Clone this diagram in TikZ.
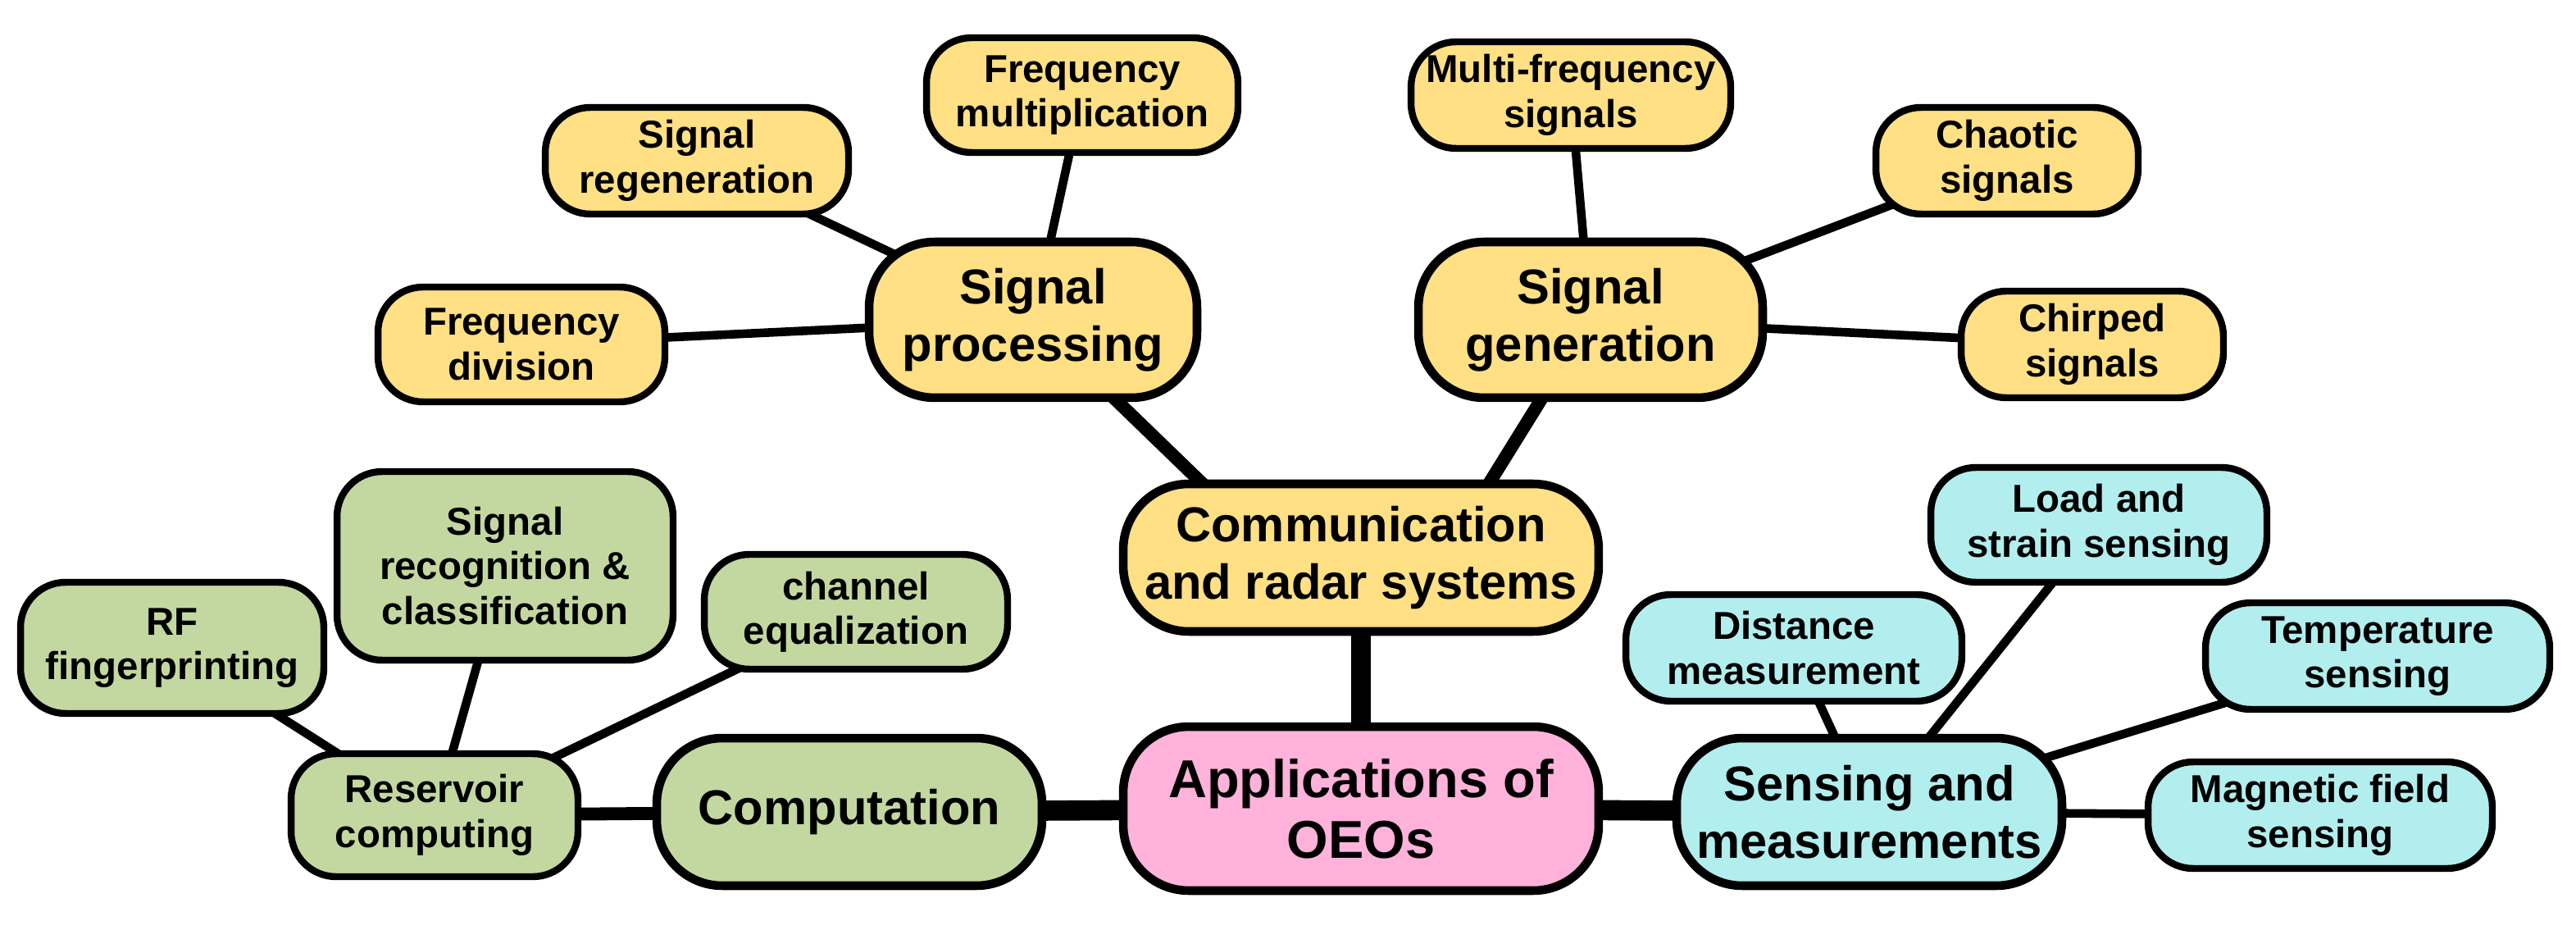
\documentclass[tikz,border=0pt]{standalone}
\usepackage{fontspec}
\setmainfont{Liberation Sans}
\usetikzlibrary{backgrounds}
\definecolor{hubcolor}{RGB}{255,178,218}
\definecolor{commcolor}{RGB}{255,224,132}
\definecolor{compcolor}{RGB}{194,216,160}
\definecolor{senscolor}{RGB}{178,238,238}
\tikzset{
  box/.style={draw=black, line width=2.4pt, rounded corners=0.55cm, align=center, font=\bfseries\fontsize{13.5}{15.5}\selectfont, inner sep=2pt},
  big/.style={box, line width=3pt, rounded corners=0.8cm, font=\bfseries\fontsize{17}{20}\selectfont},
  link/.style={line width=3pt},
  mid/.style={line width=4.5pt},
  main/.style={line width=7pt}
}
\begin{document}
\begin{tikzpicture}[x=0.02cm, y=-0.02cm]
    \useasboundingbox (0,0) rectangle (1571,567);
    % centre
    \node[big, fill=hubcolor, minimum width=5.8cm, minimum height=2cm, font=\bfseries\fontsize{18.5}{21}\selectfont] (hub) at (830,493) {Applications of\\OEOs};
    % communication branch
    \node[big, fill=commcolor, minimum width=5.8cm, minimum height=1.8cm] (comm) at (830,340) {Communication\\and radar systems};
    \node[big, fill=commcolor, minimum width=4cm, minimum height=1.9cm] (proc) at (630,195) {Signal\\processing};
    \node[big, fill=commcolor, minimum width=4.2cm, minimum height=1.9cm] (gen) at (970,195) {Signal\\generation};
    \node[box, fill=commcolor, minimum width=3.8cm, minimum height=1.4cm] (mult) at (660,58) {Frequency\\multiplication};
    \node[box, fill=commcolor, minimum width=3.7cm, minimum height=1.3cm] (regen) at (425,98) {Signal\\regeneration};
    \node[box, fill=commcolor, minimum width=3.5cm, minimum height=1.4cm] (div) at (318,210) {Frequency\\division};
    \node[box, fill=commcolor, minimum width=3.9cm, minimum height=1.3cm] (multi) at (958,58) {Multi-frequency\\signals};
    \node[box, fill=commcolor, minimum width=3.2cm, minimum height=1.3cm] (chaos) at (1224,98) {Chaotic\\signals};
    \node[box, fill=commcolor, minimum width=3.2cm, minimum height=1.3cm] (chirp) at (1276,210) {Chirped\\signals};
    % computation branch
    \node[big, fill=compcolor, minimum width=4.7cm, minimum height=1.8cm] (comp) at (518,495) {Computation};
    \node[box, fill=compcolor, minimum width=3.5cm, minimum height=1.5cm] (res) at (265,497) {Reservoir\\computing};
    \node[box, fill=compcolor, minimum width=3.7cm, minimum height=1.6cm] (rf) at (105,395) {RF\\fingerprinting};
    \node[box, fill=compcolor, minimum width=4.1cm, minimum height=2.3cm] (recog) at (308,345) {Signal\\recognition \&\\classification};
    \node[box, fill=compcolor, minimum width=3.7cm, minimum height=1.4cm] (equal) at (522,373) {channel\\equalization};
    % sensing branch
    \node[big, fill=senscolor, minimum width=4.7cm, minimum height=1.8cm] (sens) at (1140,495) {Sensing and\\measurements};
    \node[box, fill=senscolor, minimum width=4.1cm, minimum height=1.3cm] (dist) at (1094,395) {Distance\\measurement};
    \node[box, fill=senscolor, minimum width=4.1cm, minimum height=1.4cm] (load) at (1280,320) {Load and\\strain sensing};
    \node[box, fill=senscolor, minimum width=4.2cm, minimum height=1.3cm] (temp) at (1450,400) {Temperature\\sensing};
    \node[box, fill=senscolor, minimum width=4.2cm, minimum height=1.3cm] (mag) at (1415,497) {Magnetic field\\sensing};
    % connectors
    \begin{scope}[on background layer]
        \draw[main] (hub.center) -- (comm.center);
        \draw[main] (hub.center) -- (comp.center);
        \draw[main] (hub.center) -- (sens.center);
        \draw[mid] (comm.center) ++(-50,0) coordinate (cl);
        \draw[mid] (comm.center) ++(50,0) coordinate (cr);
        \draw[mid] (cl) -- (proc.center);
        \draw[mid] (cr) -- (gen.center);
        \foreach \leaf in {mult, regen, div} \draw[link] (proc.center) -- (\leaf.center);
        \foreach \leaf in {multi, chaos, chirp} \draw[link] (gen.center) -- (\leaf.center);
        \draw[mid] (comp.center) -- (res.center);
        \foreach \leaf in {rf, recog, equal} \draw[link] (res.center) -- (\leaf.center);
        \foreach \leaf in {dist, load, temp, mag} \draw[link] (sens.center) -- (\leaf.center);
    \end{scope}
\end{tikzpicture}
\end{document}
